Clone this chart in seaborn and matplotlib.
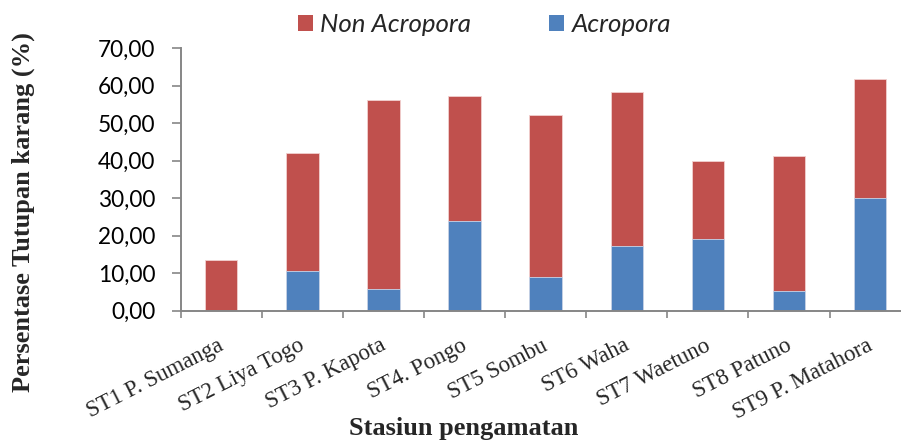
import matplotlib
matplotlib.use("Agg")
import matplotlib.pyplot as plt
import matplotlib.transforms as mtransforms
from matplotlib.patches import Patch
from matplotlib.ticker import FixedLocator, FuncFormatter
import seaborn as sns
import pandas as pd

# Coral cover per observation station (%)
stations = ["ST1 P. Sumanga", "ST2 Liya Togo", "ST3 P. Kapota", "ST4. Pongo",
            "ST5 Sombu", "ST6 Waha", "ST7 Waetuno", "ST8 Patuno", "ST9 P. Matahora"]
acropora = [0.0, 10.5, 5.7, 23.9, 8.9, 17.3, 19.1, 5.3, 30.0]
non_acropora = [13.4, 31.4, 50.4, 33.4, 43.2, 41.0, 20.7, 36.0, 31.7]
y_ticks = [0, 10, 20, 30, 40, 50, 60, 70]

df = pd.DataFrame({"station": stations, "acropora": acropora, "non_acropora": non_acropora})
df["total"] = df["acropora"] + df["non_acropora"]

red = "#C0504D"
blue = "#4F81BD"
axis_grey = "#868686"

sns.set_theme(style="white")
plt.rcParams["font.family"] = ["Lato", "DejaVu Sans"]

fig = plt.figure(figsize=(9.01, 4.43), dpi=100)
ax = fig.add_axes([180.7 / 901, 1 - 310.7 / 443, 730 / 901, (310.7 - 48) / 443])

# Stacked bars: total height in red, Acropora share drawn over it in blue
sns.barplot(data=df, x="station", y="total", color=red, saturation=1, width=0.4,
            ax=ax, edgecolor="#f2d0cf", linewidth=0.6)
sns.barplot(data=df, x="station", y="acropora", color=blue, saturation=1, width=0.4,
            ax=ax, edgecolor="#c9d7ea", linewidth=0.6)

ax.set_xlim(-0.5, len(stations) - 0.5)
ax.set_ylim(0, 70)
ax.set_yticks(y_ticks)
ax.yaxis.set_major_formatter(FuncFormatter(lambda v, p: f"{v:.2f}".replace(".", ",")))
ax.tick_params(axis="y", which="major", length=6.3, width=1.2, color=axis_grey,
               labelsize=16.3, pad=12, left=True, labelcolor="black")

ax.set_xticks(range(len(stations)))
ax.set_xticklabels(stations, rotation=27, ha="right", va="top", rotation_mode="anchor",
                   fontfamily="Liberation Serif", fontsize=16.5)
ax.tick_params(axis="x", which="major", length=0, pad=17.5)
shift = mtransforms.ScaledTranslation(-4 / 100, 0, fig.dpi_scale_trans)
for lab in ax.get_xticklabels():
    lab.set_transform(lab.get_transform() + shift)
ax.xaxis.set_minor_locator(FixedLocator([i - 0.5 for i in range(len(stations) + 1)]))
ax.tick_params(axis="x", which="minor", length=5.2, width=1.2, color=axis_grey, bottom=True)

for side in ["top", "right"]:
    ax.spines[side].set_visible(False)
for side in ["left", "bottom"]:
    ax.spines[side].set_color(axis_grey)
    ax.spines[side].set_linewidth(1.4)

ax.set_xlabel("")
ax.set_ylabel("")
fig.text(23 / 901, 1 - 212 / 443, "Persentase Tutupan karang (%)", rotation=90,
         ha="center", va="center", fontfamily="Liberation Serif", fontweight="bold",
         fontsize=19)
fig.text(464 / 901, 1 - 428 / 443, "Stasiun pengamatan", ha="center", va="center",
         fontfamily="Liberation Serif", fontweight="bold", fontsize=19)

handles = [Patch(facecolor=red, edgecolor="none", label="Non Acropora"),
           Patch(facecolor=blue, edgecolor="none", label="Acropora")]
fig.legend(handles=handles, loc="center", bbox_to_anchor=(484.5 / 901, 1 - 25 / 443),
           ncol=2, frameon=False, prop={"family": "Lato", "style": "italic", "size": 18.6},
           handlelength=0.58, handleheight=0.58, handletextpad=0.3, columnspacing=3.0,
           borderaxespad=0, borderpad=0)

fig.savefig("out.png", dpi=100)
